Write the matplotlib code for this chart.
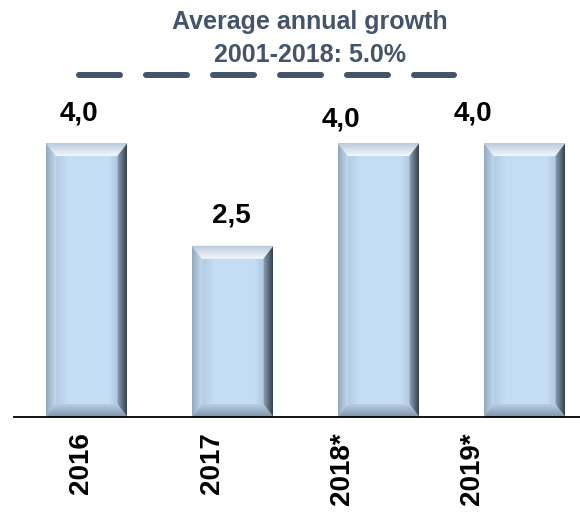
import numpy as np
import matplotlib
matplotlib.use("Agg")
import matplotlib.pyplot as plt
from matplotlib.patches import Polygon
from matplotlib.lines import Line2D

plt.rcParams['font.family'] = ['Liberation Sans', 'DejaVu Sans']

# --- data ---
years = ["2016", "2017", "2018*", "2019*"]
growth = [4.0, 2.5, 4.0, 4.0]
value_labels = ["4,0", "2,5", "4,0", "4,0"]
avg_growth = 5.0
title_lines = ["Average annual growth", "2001-2018: 5.0%"]

# --- styling ---
W, H, DPI = 580, 514, 100
face = "#C4DDF4"
title_color = "#44546A"
bar_width = 0.56
# pixel nudges for the value labels (dx, dy)
label_nudge = [(-8, 0), (-1, 0), (-38, -6), (-52, 0)]
# tick label horizontal positions (in bar-index units)
tick_pos = [-0.04, 0.86, 1.75, 2.64]

fig = plt.figure(figsize=(W / DPI, H / DPI), dpi=DPI)
ax = fig.add_axes([14 / W, (H - 417) / H, 1 - 14 / W, 417 / H])
ax.set_xlim(-0.497, 3.38)
ax.set_ylim(0, 417 / 68.5)

x = np.arange(len(years))
bars = ax.bar(x, growth, width=bar_width, color=face, zorder=2)

# bevel thickness in data units
bx = 10 / 146
by = 13 / 68.5


def gradient_patch(poly_pts, c_out, c_in, direction):
    poly = Polygon(poly_pts, closed=True, transform=ax.transData,
                   facecolor="none", edgecolor="none")
    ax.add_patch(poly)
    pts = np.array(poly_pts)
    xmin, xmax = pts[:, 0].min(), pts[:, 0].max()
    ymin, ymax = pts[:, 1].min(), pts[:, 1].max()
    co = np.array(matplotlib.colors.to_rgb(c_out))
    ci = np.array(matplotlib.colors.to_rgb(c_in))
    t = np.linspace(0, 1, 64)
    if direction == "left":      # outer at left
        g = co[None, :] * (1 - t[:, None]) + ci[None, :] * t[:, None]
        img = g[None, :, :]
    elif direction == "right":   # outer at right
        g = ci[None, :] * (1 - t[:, None]) + co[None, :] * t[:, None]
        img = g[None, :, :]
    elif direction == "top":     # outer at top (row 0 is top with origin upper)
        g = co[None, :] * (1 - t[:, None]) + ci[None, :] * t[:, None]
        img = g[:, None, :]
    else:                        # bottom: outer at bottom
        g = ci[None, :] * (1 - t[:, None]) + co[None, :] * t[:, None]
        img = g[:, None, :]
    im = ax.imshow(img, extent=(xmin, xmax, ymin, ymax), origin="upper",
                   aspect="auto", interpolation="bilinear", zorder=3)
    im.set_clip_path(poly)


for rect in bars:
    x0 = rect.get_x()
    x1 = x0 + rect.get_width()
    y0 = rect.get_y()
    y1 = y0 + rect.get_height()
    # soft vertical shading across the face
    gradient_patch([(x0 + bx, y0 + by), (x0 + bx, y1 - by),
                    (x0 + bx + 0.08, y1 - by), (x0 + bx + 0.08, y0 + by)],
                   "#B3CCE3", face, "left")
    gradient_patch([(x1 - bx - 0.06, y0 + by), (x1 - bx - 0.06, y1 - by),
                    (x1 - bx, y1 - by), (x1 - bx, y0 + by)],
                   "#AFC7DE", face, "right")
    gradient_patch([(x0, y1), (x1, y1), (x1 - bx, y1 - by), (x0 + bx, y1 - by)],
                   "#B9CADB", "#F2F8FE", "top")
    gradient_patch([(x0, y0), (x1, y0), (x1 - bx, y0 + by), (x0 + bx, y0 + by)],
                   "#8194A8", "#B8CEE3", "bottom")
    gradient_patch([(x0, y0), (x0, y1), (x0 + bx, y1 - by), (x0 + bx, y0 + by)],
                   "#93A8BD", "#C2D9EE", "left")
    gradient_patch([(x1, y0), (x1, y1), (x1 - bx, y1 - by), (x1 - bx, y0 + by)],
                   "#36414D", "#8EA4BA", "right")

# value labels
for rect, txt, (dx, dy) in zip(bars, value_labels, label_nudge):
    ax.annotate(txt, (rect.get_x() + rect.get_width() / 2, rect.get_height()),
                xytext=(dx * 72 / DPI, (30 + dy) * 72 / DPI),
                textcoords="offset points", ha="center", va="center",
                fontsize=20, fontweight="bold", color="black", zorder=5)

# average growth reference line
lw_px = 6
avg_line = Line2D([-0.051, 2.517], [avg_growth, avg_growth],
                  color=title_color, linewidth=lw_px * 72 / DPI,
                  solid_capstyle="round", dash_capstyle="round", zorder=4)
avg_line.set_dashes((41 / lw_px, 26 / lw_px))
ax.add_line(avg_line)

# title
fig.text(310 / W, 1 - 22 / H, title_lines[0], ha="center", va="center",
         fontsize=18, fontweight="bold", color=title_color)
fig.text(310 / W, 1 - 55 / H, title_lines[1], ha="center", va="center",
         fontsize=18, fontweight="bold", color=title_color)

# axes styling
for s in ["top", "left", "right"]:
    ax.spines[s].set_visible(False)
ax.spines["bottom"].set_linewidth(1.3)
ax.spines["bottom"].set_color("black")
ax.spines["bottom"].set_zorder(6)
ax.set_yticks([])
ax.set_xticks(tick_pos)
ax.set_xticklabels(years, rotation=90, fontsize=20, fontweight="bold",
                   va="top", ha="center")
ax.tick_params(axis="x", length=0, pad=11)

fig.savefig("out.png", dpi=DPI)
